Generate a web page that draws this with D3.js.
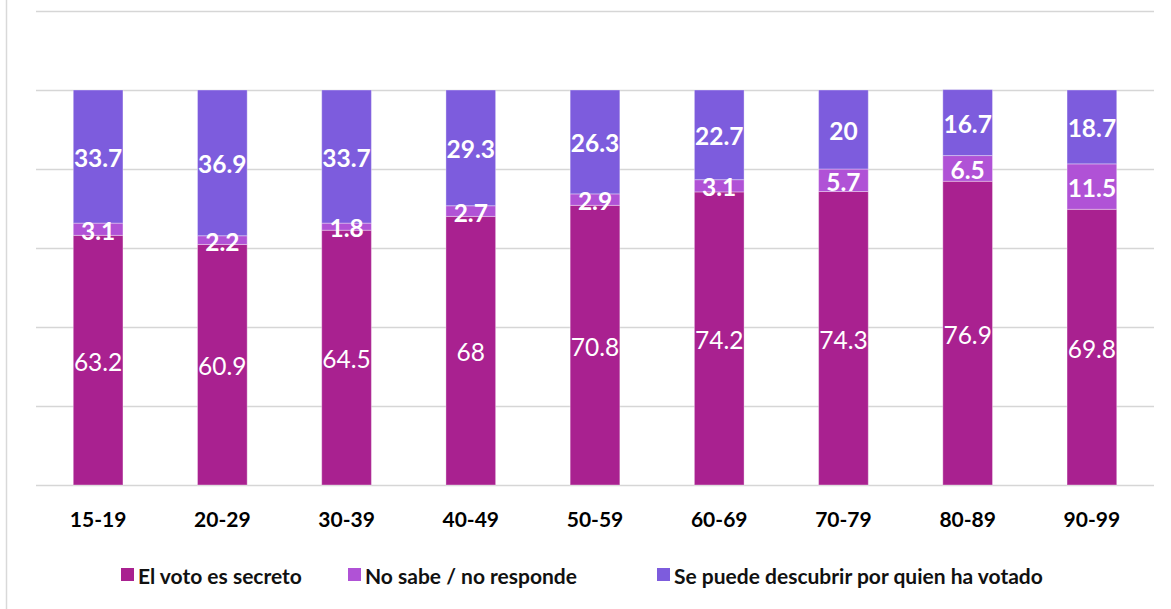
<!DOCTYPE html>
<html><head><meta charset="utf-8">
<script src="https://cdn.jsdelivr.net/npm/d3@7"></script>
<style>body{margin:0;background:#fff}svg{display:block;font-family:Lato,"Open Sans",sans-serif}</style>
</head><body><svg id="c" width="1171" height="609"></svg>
<script>
const categories = ["15-19","20-29","30-39","40-49","50-59","60-69","70-79","80-89","90-99"];
const secreto   = [63.2,60.9,64.5,68,70.8,74.2,74.3,76.9,69.8];
const noSabe    = [3.1,2.2,1.8,2.7,2.9,3.1,5.7,6.5,11.5];
const descubrir = [33.7,36.9,33.7,29.3,26.3,22.7,20,16.7,18.7];
const seriesNames = ["El voto es secreto","No sabe / no responde","Se puede descubrir por quien ha votado"];
const colors = ["#A92190","#B052D6","#7D5CDD"];
const yTicks = [0,20,40,60,80,100,120];

const svg = d3.select("#c");
const x = d3.scaleBand().domain(categories).range([36,1154]).paddingInner(0.6).paddingOuter(0.3);
const y = d3.scaleLinear().domain([0,120]).range([485,11]);

svg.append("line").attr("x1",6.5).attr("x2",6.5).attr("y1",0).attr("y2",609).attr("stroke","#d9d9d9").attr("stroke-width",1.5);

svg.append("g").selectAll("line").data(yTicks).join("line")
  .attr("x1",36).attr("x2",1154).attr("y1",d=>Math.round(y(d))+0.5).attr("y2",d=>Math.round(y(d))+0.5)
  .attr("stroke","#d6d6d6").attr("stroke-width",1.5);

const table = categories.map((c,i)=>({cat:c, s0:secreto[i], s1:noSabe[i], s2:descubrir[i]}));
const stack = d3.stack().keys(["s0","s1","s2"])(table);

const g = svg.append("g");
stack.forEach((layer,li)=>{
  g.append("g").selectAll("rect").data(layer).join("rect")
    .attr("x",d=>x(d.data.cat)).attr("width",x.bandwidth())
    .attr("y",d=>y(d[1])).attr("height",d=>y(d[0])-y(d[1]))
    .attr("fill",colors[li]).attr("stroke","#ffffff").attr("stroke-opacity",0.35).attr("stroke-width",1);
});
stack.forEach((layer,li)=>{
  g.append("g").selectAll("text").data(layer).join("text")
    .attr("x",d=>x(d.data.cat)+x.bandwidth()/2)
    .attr("y",d=>(y(d[0])+y(d[1]))/2+1)
    .attr("text-anchor","middle").attr("dominant-baseline","central")
    .attr("fill","#fff").attr("font-size",24.5).attr("font-weight",li===0?400:700)
    .text(d=>d.data["s"+li]);
});

const xa = svg.append("g").attr("transform","translate(0,485)")
  .call(d3.axisBottom(x).tickSize(0).tickPadding(27));
xa.select(".domain").remove();
xa.selectAll("text").attr("font-size",21).attr("font-weight",700).attr("fill","#000").attr("font-family","Lato,'Open Sans',sans-serif");

const legX = [121,348,657];
const lg = svg.append("g");
seriesNames.forEach((n,i)=>{
  lg.append("rect").attr("x",legX[i]).attr("y",568).attr("width",13).attr("height",13).attr("fill",colors[i]);
  lg.append("text").attr("x",legX[i]+17).attr("y",575).attr("dominant-baseline","central")
    .attr("font-size",21).attr("font-weight",700).attr("fill","#111").text(n);
});
</script></body></html>
